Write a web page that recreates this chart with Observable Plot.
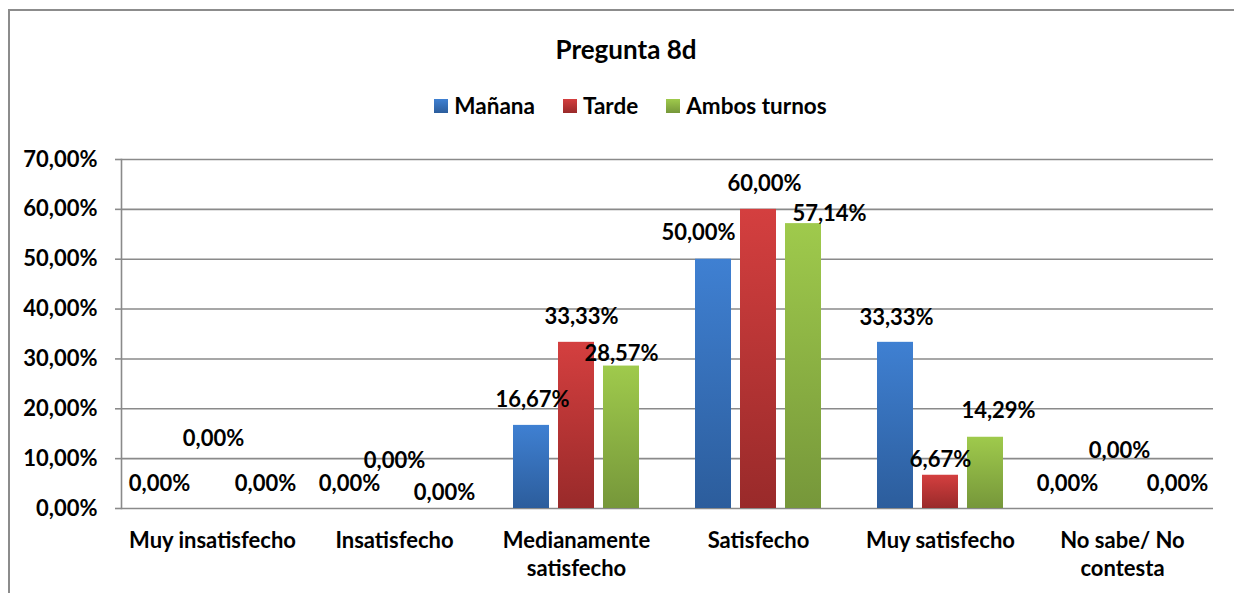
<!DOCTYPE html>
<html><head><meta charset="utf-8">
<script src="https://cdn.jsdelivr.net/npm/d3@7"></script>
<script src="https://cdn.jsdelivr.net/npm/@observablehq/plot@0.6"></script>
<style>
html,body{margin:0;padding:0;background:#fff;overflow:hidden;width:1234px;height:593px;}
body{position:relative;font-family:Lato,"Open Sans",sans-serif;font-weight:bold;color:#000;}
#frame{position:absolute;left:8px;top:9px;width:1400px;height:700px;border-left:2px solid #8c8c8c;border-top:2px solid #8c8c8c;}
#title{position:absolute;left:0;width:1252px;top:33px;text-align:center;font-size:26px;line-height:32px;}
#legend{position:absolute;left:0;width:1261px;top:93px;display:flex;justify-content:center;gap:28px;font-size:22.5px;line-height:26px;}
#legend .item{display:flex;align-items:center;}
#legend .sw{width:14px;height:14px;margin-right:6px;}
#chart{position:absolute;left:0;top:130px;}
</style>
</head><body>
<div id="frame"></div>
<div id="title">Pregunta 8d</div>
<div id="legend"></div>
<div id="chart"></div>
<script>
const categories = ["Muy insatisfecho","Insatisfecho","Medianamente satisfecho","Satisfecho","Muy satisfecho","No sabe/ No contesta"];
const tickLabels = ["Muy insatisfecho","Insatisfecho","Medianamente\nsatisfecho","Satisfecho","Muy satisfecho","No sabe/ No\ncontesta"];
const series = ["Mañana","Tarde","Ambos turnos"];
const manana = [0, 0, 16.67, 50.00, 33.33, 0];
const tarde  = [0, 0, 33.33, 60.00, 6.67, 0];
const ambos  = [0, 0, 28.57, 57.14, 14.29, 0];
const yTicks = [0,10,20,30,40,50,60,70];

// style: label nudges (px) imitating the original label placement
const labelDx = [[-8,0,1,-15,1,-10],[1,0,5,6,0,-3],[8,5,0,26,13,10]];
const labelDy = [[-25,-25,-25,-26,-24,-25],[-70,-48,-25,-25,-15,-58],[-25,-16,-12,-10,-26,-25]];
const gradColors = [["#3f80d2","#2c5d9c"],["#d43f3f","#992a2a"],["#9fca4c","#76973a"]];
const gridColor = "#8a8a8a";

const values = [manana, tarde, ambos];
const fmt = v => v.toFixed(2).replace(".", ",") + "%";
const rows = categories.flatMap((c,i) => series.map((s,j) => ({category:c, series:s, value:values[j][i], dx:labelDx[j][i], dy:labelDy[j][i]})));

// legend
const legend = document.getElementById("legend");
series.forEach((s,j) => {
  const it = document.createElement("div"); it.className = "item";
  const sw = document.createElement("div"); sw.className = "sw";
  sw.style.background = `linear-gradient(${gradColors[j][0]}, ${gradColors[j][1]})`;
  const t = document.createElement("span"); t.textContent = s;
  it.appendChild(sw); it.appendChild(t); legend.appendChild(it);
});

const svg = Plot.plot({
  width: 1234, height: 463,
  marginLeft: 119, marginRight: 19, marginTop: 29, marginBottom: 85,
  style: {fontFamily: "Lato, 'Open Sans', sans-serif", fontSize: "22px", fontWeight: "bold", color: "#000", background: "transparent", overflow: "visible"},
  fx: {domain: categories, padding: 0, axis: null, label: null},
  x: {domain: series, paddingInner: 0.2, paddingOuter: 0.583, axis: null},
  y: {domain: [0, 70], axis: null},
  marks: [
    Plot.ruleY(yTicks, {stroke: gridColor, strokeWidth: 1.6}),
    Plot.frame({anchor: "left", facetAnchor: "left", stroke: gridColor, strokeWidth: 1.6}),
    Plot.axisY({ticks: yTicks, tickFormat: fmt, tickSize: 6, tickPadding: 18, stroke: gridColor, strokeWidth: 1.6, fill: "#000", label: null}),
    ...series.map((s,j) => Plot.barY(rows.filter(r => r.series === s), {fx: "category", x: "series", y: "value", fill: `url(#grad${j})`})),
    ...rows.map(r => Plot.text([r], {fx: "category", x: "series", y: "value", text: d => fmt(d.value), dx: r.dx, dy: r.dy, fill: "#000"})),
    Plot.text(categories, {fx: d => d, text: (d,i) => tickLabels[i], frameAnchor: "bottom", lineAnchor: "top", dy: 19, lineHeight: 1.28, fill: "#000"})
  ]
});

const defs = d3.select(svg).insert("defs", ":first-child");
gradColors.forEach(([top, bottom], j) => {
  const g = defs.append("linearGradient").attr("id", "grad" + j).attr("x1", 0).attr("y1", 0).attr("x2", 0).attr("y2", 1);
  g.append("stop").attr("offset", "0%").attr("stop-color", top);
  g.append("stop").attr("offset", "100%").attr("stop-color", bottom);
});
document.getElementById("chart").appendChild(svg);
</script>
</body></html>
